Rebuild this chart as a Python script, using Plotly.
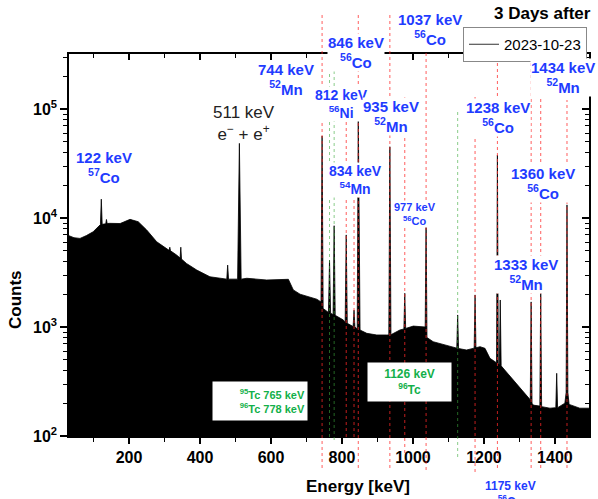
import plotly.graph_objects as go

# ---------------- data ----------------
energy_kev = [30, 45, 62, 80, 99, 118, 119.5, 122, 124.5, 134.5, 136.5, 138.5, 146, 175, 190, 203, 226,
              250, 278, 306, 313, 315, 317, 334, 344, 346, 348, 362, 391, 428, 475.5, 478, 480.5,
              506, 511, 516, 532, 588, 649, 663, 682, 729, 741, 744, 747, 762, 765, 768, 775, 778, 781,
              804, 809, 812, 815, 831.5, 834, 836.5, 843, 846, 849, 851, 870, 898, 926, 932, 935, 938,
              963, 974.5, 977, 979.5, 1001, 1020, 1034.5, 1037, 1039.5, 1057, 1095, 1123.5, 1126, 1128.5,
              1151, 1172.5, 1175, 1177.5, 1189, 1203, 1217, 1235.5, 1238, 1240.5, 1243.5, 1246, 1248.5,
              1283, 1320, 1330.5, 1333, 1335.5, 1339, 1357.5, 1360, 1362.5, 1386, 1402.5, 1405, 1407.5,
              1428, 1431.5, 1434, 1436.5, 1440, 1470, 1500]
counts = [6900, 6600, 6500, 6900, 7480, 8600, 8700, 14900, 8750, 8850, 9700, 8900, 8940, 8900, 9300, 9720, 9250,
          7760, 6060, 5270, 5050, 5400, 5000, 4580, 4300, 5400, 4200, 3830, 3330, 2890, 2750, 3700, 2750,
          2750, 48400, 2750, 2800, 2700, 2740, 2190, 2000, 1800, 1700, 56500, 1480, 1360, 4100, 1340, 1300, 8500, 1280,
          1160, 1100, 7000, 1080, 1010, 1430, 1000, 960, 91600, 940, 938, 875, 845, 845, 845, 45100, 850,
          938, 960, 2040, 970, 1020, 1007, 1000, 9550, 800, 733, 684, 640, 1290, 635,
          615, 640, 1970, 645, 660, 637, 516, 470, 37800, 460, 455, 1770, 440,
          326, 238, 215, 1700, 200, 192, 188, 2100, 186, 180, 182, 376, 182,
          200, 250, 13200, 250, 195, 180, 180]

red_lines_kev = [744, 812, 834, 846, 935, 977, 1037, 1175, 1238, 1333, 1360, 1434]
green_lines_kev = [765, 778, 1126]

series_name = "2023-10-23"
x_tick_vals = [200, 400, 600, 800, 1000, 1200, 1400]
y_tick_vals = [1e2, 1e3, 1e4, 1e5]
y_tick_text = ["10<sup>2</sup>", "10<sup>3</sup>", "10<sup>4</sup>", "10<sup>5</sup>"]

# ---------------- layout helpers (positions / styles) ----------------
W, H = 598, 499
L, R, T, B = 69, 9, 54, 63
PW, PH = W - L - R, H - T - B


def px(x):
    return (x - L) / PW


def py(y):
    return (H - B - y) / PH


FONT = "Liberation Sans, Arial, Helvetica, sans-serif"
BLUE = "#1f3cff"
GREEN = "#12b04a"

# line extents in pixels (top, bottom) for each marker line
red_extent = {744: (15, 468), 812: (115, 437), 834: (198, 437), 846: (13, 468), 935: (13, 468),
              977: (97, 453), 1037: (50, 470), 1175: (97, 472), 1238: (55, 468), 1333: (57, 468),
              1360: (78, 468), 1434: (100, 468)}
green_extent = {765: (50, 437), 778: (67, 440), 1126: (112, 457)}

fig = go.Figure()
fig.add_trace(go.Scatter(x=energy_kev, y=counts, mode="lines", fill="tozeroy",
                         fillcolor="black", line=dict(color="black", width=0.8),
                         name=series_name, showlegend=False))
# legend entry (thin line sample)
fig.add_trace(go.Scatter(x=[None], y=[None], mode="lines", line=dict(color="#333333", width=1),
                         name=series_name, showlegend=True))
# helper trace for the mirrored (inward-tick) axes
fig.add_trace(go.Scatter(x=[energy_kev[0]], y=[counts[0]], xaxis="x2", yaxis="y2",
                         mode="markers", marker=dict(opacity=0), showlegend=False, hoverinfo="skip"))

shapes = []
for e in red_lines_kev:
    top, bot = red_extent[e]
    shapes.append(dict(type="line", xref="x", yref="paper", x0=e, x1=e, y0=py(bot), y1=py(top),
                       line=dict(color="rgba(255,40,40,0.75)", width=1, dash="dot"), layer="above"))
for e in green_lines_kev:
    top, bot = green_extent[e]
    shapes.append(dict(type="line", xref="x", yref="paper", x0=e, x1=e, y0=py(bot), y1=py(top),
                       line=dict(color="rgba(60,170,60,0.6)", width=1, dash="dot"), layer="above"))

annotations = []


def label(text, cx, cy, size, color=BLUE, bold=True, bg="white"):
    annotations.append(dict(text=text, xref="paper", yref="paper", x=px(cx), y=py(cy),
                            xanchor="center", yanchor="middle", showarrow=False,
                            font=dict(family=FONT, size=size, color=color,
                                      weight="bold" if bold else "normal"),
                            bgcolor=bg, borderpad=0))


label("122 keV<br><sup>57</sup>Co", 104, 167, 15)
label("511 keV<br>e<sup>−</sup> + e<sup>+</sup>", 244, 123, 17, color="#222222", bold=False, bg=None)
label("744 keV<br><sup>52</sup>Mn", 286, 79, 15)
label("846 keV<br><sup>56</sup>Co", 356, 52, 15)
label("1037 keV<br><sup>56</sup>Co", 430, 30, 15)
label("812 keV<br><sup>56</sup>Ni", 341.5, 104, 14)
label("935 keV<br><sup>52</sup>Mn", 390.5, 116, 15)
label("834 keV<br><sup>54</sup>Mn", 355.5, 180, 14)
label("977 keV<br><sup>56</sup>Co", 414.5, 214, 11)
label("1238 keV<br><sup>56</sup>Co", 498, 117, 15)
label("1434 keV<br><sup>52</sup>Mn", 563, 78, 15)
label("1360 keV<br><sup>56</sup>Co", 543, 183, 15)
label("1333 keV<br><sup>52</sup>Mn", 525.5, 274, 15)
label("1175 keV<br><sup>56</sup>Co", 510, 494, 12, bg=None)

annotations.append(dict(text="<sup>95</sup>Tc 765 keV<br><sup>96</sup>Tc 778 keV", xref="paper", yref="paper",
                        x=px(260), y=py(401), xanchor="center", yanchor="middle", showarrow=False,
                        width=90, height=34, align="right", bgcolor="white", borderpad=2,
                        font=dict(family=FONT, size=11, color=GREEN, weight="bold")))
annotations.append(dict(text="1126 keV<br><sup>96</sup>Tc", xref="paper", yref="paper",
                        x=px(409.5), y=py(382), xanchor="center", yanchor="middle", showarrow=False,
                        width=79, height=34, align="center", bgcolor="white", borderpad=2,
                        font=dict(family=FONT, size=12, color=GREEN, weight="bold")))

annotations.append(dict(text="3 Days after", xref="paper", yref="paper", x=px(542), y=py(14),
                        xanchor="center", yanchor="middle", showarrow=False,
                        font=dict(family=FONT, size=17, color="black", weight="bold")))
annotations.append(dict(text="Counts", xref="paper", yref="paper", x=px(15), y=py(300),
                        xanchor="center", yanchor="middle", showarrow=False, textangle=-90,
                        font=dict(family=FONT, size=17, color="black", weight="bold")))
annotations.append(dict(text="Energy [keV]", xref="paper", yref="paper", x=px(358), y=py(486),
                        xanchor="center", yanchor="middle", showarrow=False,
                        font=dict(family=FONT, size=17, color="black", weight="bold")))

x_range = [31, 1496]
y_range = [2, 5.505]
minor_y = [m * 10 ** k for k in range(2, 6) for m in range(2, 10)]
minor_x = [100, 300, 500, 700, 900, 1100, 1300, 1500]

fig.update_layout(
    width=W, height=H, autosize=False,
    margin=dict(l=L, r=R, t=T, b=B, pad=0, autoexpand=False),
    plot_bgcolor="white", paper_bgcolor="white",
    font=dict(family=FONT, color="black"),
    shapes=shapes, annotations=annotations,
    xaxis=dict(range=x_range, showgrid=False, zeroline=False, showline=True, linecolor="black",
               linewidth=1.5, mirror=True, ticks="outside", ticklen=6, tickwidth=1.5, tickcolor="black",
               tickvals=x_tick_vals, tickfont=dict(family=FONT, size=16, weight="bold"),
               minor=dict(tickmode="array", tickvals=minor_x,
                          ticks="outside", ticklen=4, tickwidth=1.2, tickcolor="black")),
    yaxis=dict(type="log", range=y_range, showgrid=False, zeroline=False, showline=True, linecolor="black",
               linewidth=1.5, mirror=True, ticks="outside", ticklen=7, tickwidth=1.5, tickcolor="black",
               tickvals=y_tick_vals, ticktext=y_tick_text, tickfont=dict(family=FONT, size=16, weight="bold"),
               minor=dict(tickmode="array", tickvals=minor_y, ticks="outside", ticklen=4,
                          tickwidth=1.2, tickcolor="black")),
    xaxis2=dict(range=x_range, overlaying="x", side="top", showgrid=False, zeroline=False, showline=False,
                ticks="inside", ticklen=6, tickwidth=1.5, tickcolor="black", tickvals=x_tick_vals,
                showticklabels=False,
                minor=dict(tickmode="array", tickvals=minor_x,
                           ticks="inside", ticklen=4, tickwidth=1.2, tickcolor="black")),
    yaxis2=dict(type="log", range=y_range, overlaying="y", side="right", showgrid=False, zeroline=False,
                showline=False, ticks="inside", ticklen=7, tickwidth=1.5, tickcolor="black",
                tickvals=y_tick_vals, showticklabels=False,
                minor=dict(tickmode="array", tickvals=minor_y, ticks="inside", ticklen=4,
                           tickwidth=1.2, tickcolor="black")),
    legend=dict(x=px(463), y=py(27), xanchor="left", yanchor="top", bgcolor="white",
                bordercolor="#888888", borderwidth=1, font=dict(family=FONT, size=15, color="black"),
                tracegroupgap=0, itemwidth=30),
    showlegend=True,
)

fig.write_html("out.html", config={"displayModeBar": False},
               post_script="document.body.style.margin='0px';")
